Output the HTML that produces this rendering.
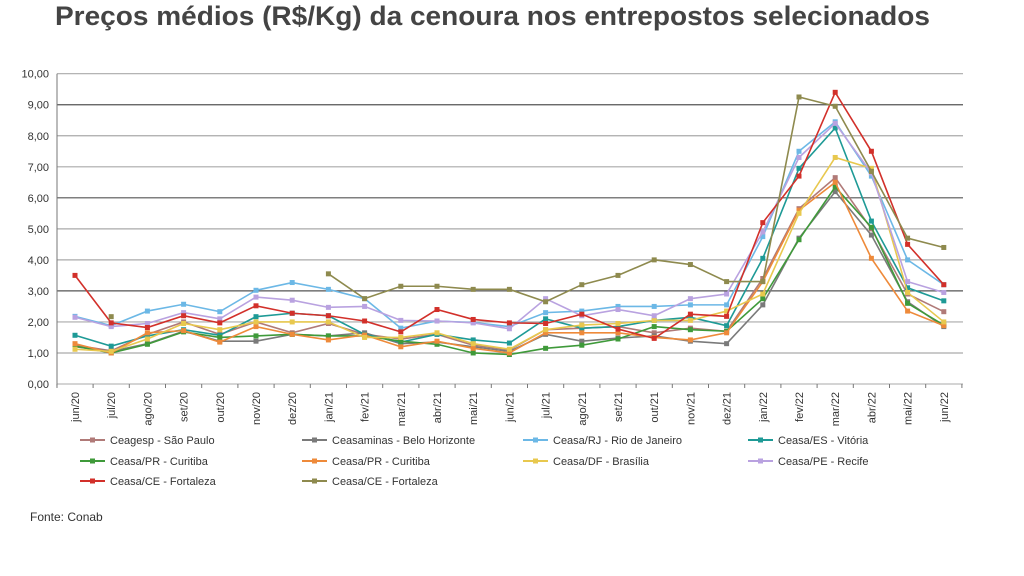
<!DOCTYPE html>
<html><head><meta charset="utf-8"><style>
body{margin:0;background:#fff;width:1024px;height:571px;overflow:hidden;font-family:"Liberation Sans",sans-serif}
</style></head><body>
<svg id="s" width="1024" height="571" xmlns="http://www.w3.org/2000/svg" font-family="Liberation Sans, sans-serif">
<text x="55" y="25" font-size="27" font-weight="bold" fill="#444" textLength="875" lengthAdjust="spacingAndGlyphs">Preços médios (R$/Kg)  da cenoura nos entrepostos selecionados</text>
<text x="30" y="521" font-size="12" fill="#333">Fonte: Conab</text>
</svg>
<script>
const s=document.getElementById('s');const NS='http://www.w3.org/2000/svg';
function el(t,a,txt){const e=document.createElementNS(NS,t);for(const k in a)e.setAttribute(k,a[k]);if(txt!=null)e.textContent=txt;s.appendChild(e);return e;}
const X0=75,DX=36.2,Y0=384,DY=31.03,L=57,R=963;
const y=v=>Y0-v*DY, x=i=>X0+i*DX;
for(let v=0;v<=10;v++){
 el('line',{x1:L,x2:R,y1:y(v),y2:y(v),stroke:v%3==0&&v>0?'#555':'#aaa','stroke-width':v==0?1:1.2});
 el('text',{x:49,y:y(v)+4,'font-size':11,'text-anchor':'end',fill:'#333'},v.toFixed(2).replace('.',','));
}
el('line',{x1:L,x2:L,y1:y(10),y2:Y0+3,stroke:'#777'});
const m=['jun/20','jul/20','ago/20','set/20','out/20','nov/20','dez/20','jan/21','fev/21','mar/21','abr/21','mai/21','jun/21','jul/21','ago/21','set/21','out/21','nov/21','dez/21','jan/22','fev/22','mar/22','abr/22','mai/22','jun/22'];
m.forEach((t,i)=>{el('line',{x1:x(i)+DX/2,x2:x(i)+DX/2,y1:Y0,y2:Y0+4,stroke:'#777'});
 el('text',{transform:`translate(${x(i)+4},392) rotate(-90)`,'font-size':11,'text-anchor':'end',fill:'#333'},t);});
el('line',{x1:L-DX/2+18,x2:L,y1:Y0,y2:Y0+4,stroke:'#777'});
const S=[
['Ceagesp - São Paulo','#b07a78',[1.25,1.07,1.6,2.0,1.6,2.0,1.65,1.95,1.6,1.45,1.6,1.25,1.1,1.75,1.8,1.85,1.65,1.8,1.7,3.4,5.65,6.65,5.0,2.9,2.33]],
['Ceasaminas - Belo Horizonte','#7a7a7a',[1.2,1.05,1.3,1.7,1.38,1.38,1.6,1.55,1.65,1.3,1.35,1.2,1.05,1.6,1.38,1.48,1.55,1.38,1.3,2.55,4.7,6.2,4.8,2.65,1.85]],
['Ceasa/RJ - Rio de Janeiro','#6cb8e6',[2.18,1.88,2.35,2.57,2.33,3.02,3.27,3.05,2.75,1.8,2.03,1.98,1.85,2.3,2.35,2.5,2.5,2.55,2.55,4.75,7.5,8.45,6.7,4.0,3.2]],
['Ceasa/ES - Vitória','#1e9a96',[1.57,1.22,1.55,1.75,1.57,2.17,2.28,2.2,1.6,1.35,1.6,1.42,1.32,2.1,1.8,1.85,2.05,2.15,1.88,4.05,6.95,8.25,5.25,3.1,2.68]],
['Ceasa/PR - Curitiba','#3f9a3a',[1.22,1.0,1.28,1.68,1.5,1.55,1.6,1.55,1.55,1.38,1.28,1.0,0.95,1.15,1.25,1.45,1.85,1.75,1.7,2.75,4.65,6.35,5.05,2.6,1.9]],
['Ceasa/PR - Curitiba','#ee8a3a',[1.3,1.0,1.65,1.72,1.35,1.85,1.6,1.42,1.58,1.2,1.38,1.15,1.0,1.65,1.65,1.65,1.5,1.42,1.65,3.3,5.6,6.5,4.05,2.35,1.88]],
['Ceasa/DF - Brasília','#e8c84e',[1.12,1.05,1.45,1.95,1.75,2.0,2.0,2.0,1.5,1.5,1.65,1.3,1.12,1.75,1.9,1.95,2.05,2.05,2.35,2.9,5.5,7.3,6.95,2.95,2.0]],
['Ceasa/PE - Recife','#b9a2e0',[2.15,1.85,1.95,2.3,2.1,2.8,2.7,2.47,2.5,2.05,2.03,1.97,1.78,2.75,2.2,2.4,2.2,2.75,2.9,4.9,7.3,8.4,6.8,3.3,2.95]],
['Ceasa/CE - Fortaleza','#d2302a',[3.5,1.97,1.82,2.2,1.97,2.52,2.28,2.2,2.03,1.68,2.4,2.08,1.97,1.95,2.25,1.77,1.47,2.25,2.18,5.2,6.7,9.4,7.5,4.5,3.2]],
['Ceasa/CE - Fortaleza','#8e8a4e',[null,2.17,null,null,null,null,null,3.55,2.75,3.15,3.15,3.05,3.05,2.65,3.2,3.5,4.0,3.85,3.3,3.3,9.25,8.95,6.85,4.7,4.4]]
];
S.forEach(([n,c,d],k)=>{
 let seg=[];const flush=()=>{if(seg.length>1)el('polyline',{points:seg.join(' '),fill:'none',stroke:c,'stroke-width':1.6});seg=[];};
 d.forEach((v,i)=>{if(v==null){flush();return;}seg.push(x(i)+','+y(v));});flush();
 d.forEach((v,i)=>{if(v!=null)el('rect',{x:x(i)-2.5,y:y(v)-2.5,width:5,height:5,fill:c});});
 const cx=[80,302,523,748][k%4],ry=[440,461,481][Math.floor(k/4)];
 el('line',{x1:cx,x2:cx+25,y1:ry,y2:ry,stroke:c,'stroke-width':2});
 el('rect',{x:cx+10,y:ry-2.5,width:5,height:5,fill:c});
 el('text',{x:cx+30,y:ry+4,'font-size':11,fill:'#333'},n);
});
</script>
</body></html>
